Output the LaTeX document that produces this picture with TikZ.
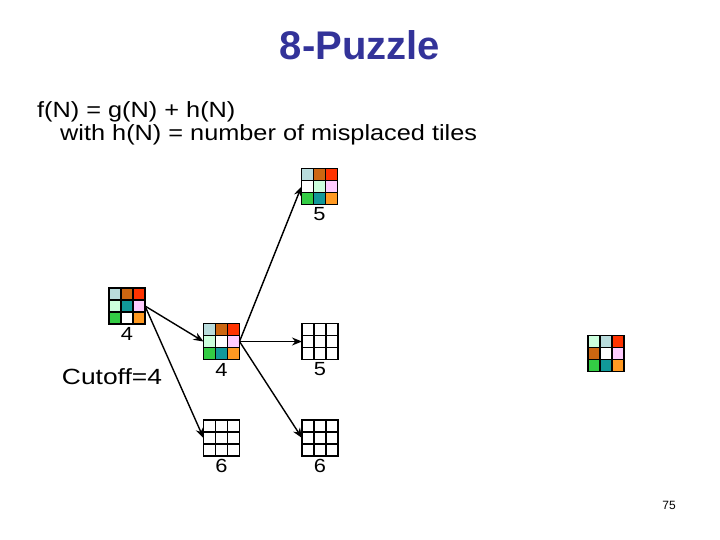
\documentclass[tikz,border=0pt]{standalone}
\usepackage{fontspec}
\setmainfont{Liberation Sans}
\usetikzlibrary{calc,arrows.meta}
\definecolor{titleblue}{HTML}{333399}
\definecolor{lb}{HTML}{B9DCDC}
\definecolor{br}{HTML}{CC6611}
\definecolor{rd}{HTML}{FF3300}
\definecolor{pg}{HTML}{CCFFDD}
\definecolor{tl}{HTML}{119999}
\definecolor{pk}{HTML}{FFCCFF}
\definecolor{gr}{HTML}{33CC44}
\definecolor{og}{HTML}{FF9922}
\tikzset{
  boardbox/.style={minimum size=36pt,inner sep=0pt,outer sep=0pt},
  cell/.style={draw=black,line width=1.3pt},
  conn/.style={draw=black,line width=1.4pt,-{Stealth[length=10pt,width=8pt]}},
  lbl/.style={font=\fontsize{19}{19}\selectfont,inner sep=0pt},
  body/.style={anchor=base west,font=\fontsize{22}{22}\selectfont,inner sep=0pt},
}
\newcommand\board[3]{%
  \node[boardbox] (#1) at #2 {};
  \foreach \c [count=\i from 0] in {#3} {
    \pgfmathtruncatemacro\col{mod(\i,3)}
    \pgfmathtruncatemacro\row{div(\i,3)}
    \filldraw[cell,fill=\c] ($(#1.north west)+(\col*12,\row*12)$) rectangle ++(12,12);
  }
}
\newcommand\wide[1]{\scalebox{1.15}[1]{#1}}
\begin{document}
\begin{tikzpicture}[x=1pt,y=-1pt]
\useasboundingbox (0,0) rectangle (720,540);
\node[font=\fontsize{40}{40}\selectfont\bfseries,text=titleblue] (title) at (360,45) {8-Puzzle};
\node[body] (l1) at (37,118) {\wide{f(N) = g(N) + h(N)}};
\node[body] (l2) at (60,141) {\wide{with h(N) = number of misplaced tiles}};

\board{root}{(127,306)}{lb,br,rd,pg,tl,pk,gr,white,og}
\board{top}{(319.5,186.5)}{lb,br,rd,white,pg,pk,gr,tl,og}
\board{mid}{(221.5,341.5)}{lb,br,rd,pg,white,pk,gr,tl,og}
\board{e5}{(320,341.5)}{white,white,white,white,white,white,white,white,white}
\board{e6a}{(221.5,438)}{white,white,white,white,white,white,white,white,white}
\board{e6b}{(320,438)}{white,white,white,white,white,white,white,white,white}
\board{goal}{(606,353.5)}{pg,lb,rd,br,white,pk,gr,tl,og}

\node[lbl] (lroot) at ($(root.south)+(0,10)$) {\wide{4}};
\node[lbl] (ltop) at ($(top.south)+(0,10)$) {\wide{5}};
\node[lbl] (lmid) at ($(mid.south)+(0,10)$) {\wide{4}};
\node[lbl] (le5) at ($(e5.south)+(0,10)$) {\wide{5}};
\node[lbl] (le6a) at ($(e6a.south)+(0,10)$) {\wide{6}};
\node[lbl] (le6b) at ($(e6b.south)+(0,10)$) {\wide{6}};

\node[font=\fontsize{22}{22}\selectfont,inner sep=0pt] (cut) at (112,377) {\scalebox{1.2}[1]{Cutoff=4}};
\node[font=\fontsize{12}{12}\selectfont,inner sep=0pt] (pg) at (669,505) {75};

\draw[conn] (root.east) -- (mid.west);
\draw[conn] (root.east) -- (e6a.west);
\draw[conn] (mid.east) -- (top.west);
\draw[conn] (mid.east) -- (e5.west);
\draw[conn] (mid.east) -- (e6b.west);
\end{tikzpicture}
\end{document}
